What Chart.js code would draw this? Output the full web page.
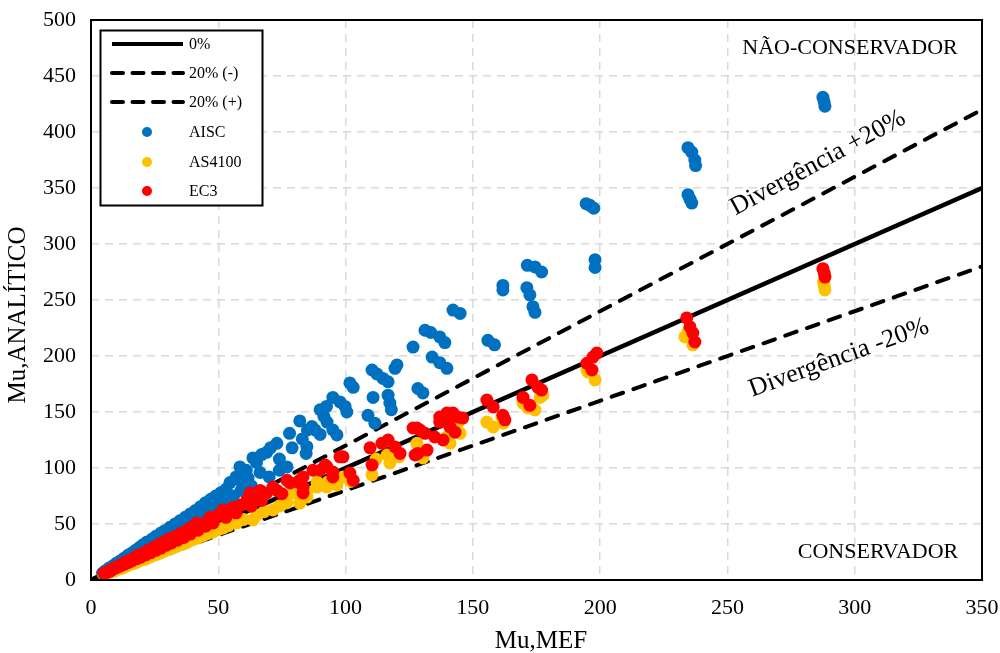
<!DOCTYPE html>
<html>
<head>
<meta charset="utf-8">
<script src="https://cdn.jsdelivr.net/npm/chart.js@4.4.0/dist/chart.umd.min.js"></script>
<style>
html,body{margin:0;padding:0;background:#fff;}
#wrap{width:1000px;height:653px;}
</style>
</head>
<body>
<div id="wrap"><canvas id="c" width="1000" height="653"></canvas></div>
<script>
// ---- reference lines ----
const lineX = [0, 350];
const line0Y = [0, 350];
const lineMinusY = [0, 280];
const linePlusY = [0, 420];

// ---- axis ticks ----
const xTicks = [0, 50, 100, 150, 200, 250, 300, 350];
const yTicks = [0, 50, 100, 150, 200, 250, 300, 350, 400, 450, 500];

// ---- AISC [MEF, analytic] ----
const aisc = [
[4.5,6],[5.5,8],[6,7],[7,10.5],[7.5,9],[8.5,12.5],[9,11],[10,15],[10.5,13],[11.5,17],[12,15],[13,19.5],[13.5,17],[14.5,22],[15,19],[16,24],[16.5,21],[17.5,26.5],[18,23],[19,29],[19.5,25],[20.5,31.5],[21,27],[22,34],[23,29.5],[24,36.5],[24.5,31.5],[25.5,39],[26.5,34],[27.5,42],[28,36],[29,44],[30,39],[31,47],[32,41.5],[33,50],[34,44],[35,53],[36,47],[37,56],[38,49.5],[39,59],[40,52],[41,62],[42,55],[43,65.5],[44,58],[45,69],[46,61],[47,72],[48,64],[49,75],[50,67],[51,78],[52,70],[53,81],[54.6,87],[56,75],[57,92],[58.5,89],[58.5,101],[59,80],[61,98],[61.7,91],[63.6,109],[63,84],[65,105],[66.4,96],[67,112],[69,114],[70,92],[70.5,118],[73,122],[74,98],[74,108],[77,101],[78,131],[79,118],[82,142],[83,126],[85,134],[84.8,119],[84.5,113],[86.8,137],
[88,134],[90,130],[90,152],[91.5,146],[92.5,155],[92.7,141],[95,163],[95,134],[96.6,129.5],[97.8,159],[99.8,155],[100.5,150],[101.7,176],[103,172],[108.8,147],[110.4,187.5],[110.8,163],[111.5,140],[112.3,184],[114.7,180],[116.7,177],[116.7,165],[117.4,158],[118,152],[119.4,189],[120.2,192],[126.5,208],[128.4,171],[130.4,167],[131.2,223],[133.5,221],[134,199],[137,194],[139.8,189],[137,217],[139,212],[142.2,241],[145,238],[155.9,214],[158.5,210],[161.8,263],[161.8,259],[171.4,281],[174.4,279.5],[177,275],[171.2,261],[172.4,254.5],[173.6,244],[174.4,239],[194.5,336],[196,334.5],[197.5,332],[198,286],[198,279],[234.5,386],[236,382],[237.2,375],[237.5,370],[234.5,344],[235.3,340],[236,336.5],[287.5,431],[288,427],[288.3,423]
];

// ---- AS4100 ----
const as4100 = [
[5,5],[6,5.5],[7,6.5],[8,7.5],[9,8],[10,9],[11,10],[12,10.5],[13,11.5],[14,12.5],[15,13.5],[16,14.5],[17,15],[18,16],[19,17],[20,18],[21,18.5],[22,19.5],[23,20.5],[24,21.5],[25,22.5],[26,23],[27,24],[28,25],[29,26],[30,27],[31,27.5],[32,28.5],[33,29.5],[34,30.5],[35,31.5],[36,32],[37,33],[38,34],[40,36],[42,37.5],[44,39.5],[46,41.5],[48,43],[50,45],[52,46.5],[54,48.5],[57.3,51],[60,54],[63.6,53.6],[65,58],[68,61],[71.5,62.5],[74,66],[77,69],[79.3,77.7],[82,68.7],[84.8,74],[84.8,78.6],[88.8,83],[88.8,87.5],[92.7,83],[93,87.5],[96.6,84.8],[99,92],[102,88],[110.4,93.75],[112,108],[116.3,111.6],[117.4,104.5],[121,110],[128,122],[130.4,109],[139.8,127.7],[141,122],[141,129.5],[145,131],[144,140],[155.5,141],[158,136.6],[161.4,145.5],[162,140],[169.7,158],[171.6,153.6],[174.4,151.8],[176.4,163],[177.5,165],[194.8,187.5],[195.2,185.7],[198,178.6],[233.3,217],[234.5,222],[236.4,210],[287.8,266],[288,263],[288.3,259]
];

// ---- EC3 ----
const ec3 = [
[5,6],[6,6.5],[7,8],[7.5,8],[8.5,9.5],[9,10.5],[10,11],[10.5,12.5],[11.5,12.5],[12,14],[13,14],[13.5,16],[14.5,15.5],[15,17.5],[16,17],[17,20],[18,19],[18.5,22],[19.5,20.5],[20.5,24],[21.5,22.5],[22.5,26.5],[23.5,24.5],[24.5,29],[25.5,26.5],[26.5,31.5],[27.5,28.5],[28.5,34],[29.5,31],[30.5,36.5],[31.5,33],[33,39],[34,35.5],[35.5,42],[36.5,38],[38,45],[39,41],[40,48],[41.6,51],[42,44.5],[44,50],[45,48],[46.7,56],[48,51],[50,58],[51.8,62.5],[53,56],[55.8,65],[57,60],[59,67],[61.3,71.5],[62.5,77.7],[63,66],[65.2,74],[66.4,80],[67,71],[69,77.7],[71.5,83],[73,80],[75,77],[77,89],[78.2,86.6],[81.3,87.5],[82,89],[83.3,92],[83.3,83],[83.3,77.7],[87.2,98],[90,98],[92,102.7],[92.7,101],[95,96.4],[95,92],[97.8,110],[99,110],[101.7,95.5],[103,89],[109.6,118],[110.4,102.7],[114.3,122],[116.7,125],[119.4,118.75],[121.4,113],[126.5,135.7],[128,135.7],[129.2,134],[127.3,111.6],[128.4,113],[131.2,131],[132,116],[135,127.7],[138.3,125],[137,141],[137,145.5],[139.8,149],[142.2,149],[141,147],[144,145.5],[146,144.6],[141,136.6],[143,132],[155.5,160.7],[158,154.5],[161.8,147],[162.6,143],[169.7,163],[172.4,156],[173.2,178.6],[175.6,172],[177,169.6],[194.8,193.5],[196.8,187.5],[197.2,199],[198.7,202.7],[234,234],[235.3,226],[236.4,220.5],[237.2,212.5],[287.5,278],[288,274],[288.3,270.5]
];

const FONT = "'Liberation Serif', 'Times New Roman', serif";
const BLUE = '#0070C0', YELLOW = '#FFC000', RED = '#FF0000';

const toPts = arr => arr.map(p => ({x: p[0], y: p[1]}));
const linePts = ys => lineX.map((x, i) => ({x: x, y: ys[i]}));

const legendItems = [
  {text: '0%', kind: 'solid'},
  {text: '20% (-)', kind: 'dash'},
  {text: '20% (+)', kind: 'dash'},
  {text: 'AISC', kind: 'dot', color: BLUE},
  {text: 'AS4100', kind: 'dot', color: YELLOW},
  {text: 'EC3', kind: 'dot', color: RED}
];

const overlay = {
  id: 'overlay',
  afterDraw(chart) {
    const ctx = chart.ctx;
    const a = chart.chartArea;
    ctx.save();
    // frame
    ctx.strokeStyle = '#000';
    ctx.lineWidth = 2;
    ctx.setLineDash([]);
    ctx.strokeRect(a.left, a.top, a.right - a.left, a.bottom - a.top);

    // legend box
    const lx = 100.5, ly = 30.5, lw = 162, lh = 175;
    ctx.fillStyle = '#fff';
    ctx.fillRect(lx, ly, lw, lh);
    ctx.lineWidth = 2;
    ctx.strokeRect(lx, ly, lw, lh);
    const rowY = [44, 73, 102, 132, 162, 191];
    ctx.font = '16px ' + FONT;
    ctx.textBaseline = 'middle';
    ctx.textAlign = 'left';
    legendItems.forEach((it, i) => {
      const y = rowY[i];
      if (it.kind === 'solid' || it.kind === 'dash') {
        ctx.beginPath();
        ctx.strokeStyle = '#000';
        ctx.lineWidth = 4;
        ctx.lineCap = it.kind === 'dash' ? 'round' : 'butt';
        ctx.setLineDash(it.kind === 'dash' ? [11, 9.5] : []);
        ctx.moveTo(112, y);
        ctx.lineTo(183, y);
        ctx.stroke();
        ctx.setLineDash([]);
      } else {
        ctx.beginPath();
        ctx.fillStyle = it.color;
        ctx.arc(147, y, 5, 0, Math.PI * 2);
        ctx.fill();
      }
      ctx.fillStyle = '#000';
      ctx.fillText(it.text, 189, y + 1);
    });

    // axis titles
    ctx.fillStyle = '#000';
    ctx.textAlign = 'center';
    ctx.textBaseline = 'middle';
    ctx.font = '25px ' + FONT;
    ctx.fillText('Mu,MEF', 541, 641);
    ctx.save();
    ctx.translate(18, 315);
    ctx.rotate(-Math.PI / 2);
    ctx.fillText('Mu,ANALÍTICO', 0, 0);
    ctx.restore();

    // annotations
    ctx.font = '22px ' + FONT;
    ctx.fillText('NÃO-CONSERVADOR', 850, 48);
    ctx.fillText('CONSERVADOR', 878, 552);

    ctx.font = '26px ' + FONT;
    ctx.save();
    ctx.translate(818, 163);
    ctx.rotate(-28.5 * Math.PI / 180);
    ctx.fillText('Divergência +20%', 0, 0);
    ctx.restore();
    ctx.save();
    ctx.translate(839, 358);
    ctx.rotate(-20 * Math.PI / 180);
    ctx.fillText('Divergência -20%', 0, 0);
    ctx.restore();

    ctx.restore();
  }
};

const dotDs = (label, arr, color, order) => ({
  label: label, data: toPts(arr), backgroundColor: color, borderWidth: 0,
  pointRadius: 6.5, pointHoverRadius: 6.5, pointStyle: 'circle', showLine: false, order: order
});
const lineDs = (label, ys, dash) => ({
  label: label, data: linePts(ys), showLine: true, borderColor: '#000', borderWidth: dash ? 4 : 4.5,
  borderDash: dash ? [12, 11] : [], borderCapStyle: dash ? 'round' : 'butt',
  pointRadius: 0, fill: false, tension: 0, order: 3
});
const zeroPad = s => { s.paddingTop = 0; s.paddingBottom = 0; s.paddingLeft = 0; s.paddingRight = 0; };

new Chart(document.getElementById('c'), {
  type: 'scatter',
  data: {
    datasets: [
      lineDs('0%', line0Y, false),
      lineDs('20% (-)', lineMinusY, true),
      lineDs('20% (+)', linePlusY, true),
      dotDs('AISC', aisc, BLUE, 2),
      dotDs('AS4100', as4100, YELLOW, 1),
      dotDs('EC3', ec3, RED, 0)
    ]
  },
  options: {
    responsive: false,
    animation: false,
    layout: {padding: {top: 20, right: 18, left: 0, bottom: 0}},
    plugins: {legend: {display: false}, tooltip: {enabled: false}},
    scales: {
      x: {
        type: 'linear', min: 0, max: 350,
        afterBuildTicks: s => { s.ticks = xTicks.map(v => ({value: v})); },
        afterFit: s => { s.height = 73; zeroPad(s); },
        ticks: {font: {family: FONT, size: 22}, color: '#000', padding: 15, maxRotation: 0},
        grid: {color: '#d9d9d9', lineWidth: 1.5, drawTicks: false},
        border: {display: false, dash: [8, 6]},
        title: {display: false}
      },
      y: {
        type: 'linear', min: 0, max: 500,
        afterBuildTicks: s => { s.ticks = yTicks.map(v => ({value: v})); },
        afterFit: s => { s.width = 91; zeroPad(s); },
        ticks: {font: {family: FONT, size: 22}, color: '#000', padding: 15},
        grid: {color: '#d9d9d9', lineWidth: 1.5, drawTicks: false},
        border: {display: false, dash: [8, 6]},
        title: {display: false}
      }
    }
  },
  plugins: [overlay]
});
</script>
</body>
</html>
